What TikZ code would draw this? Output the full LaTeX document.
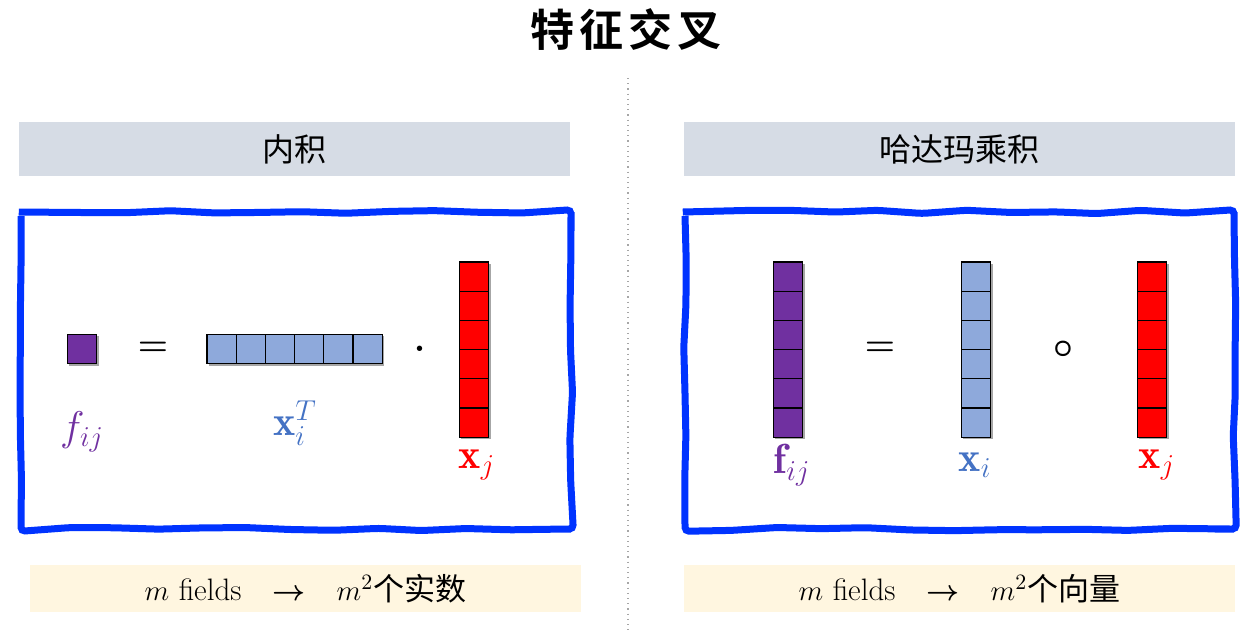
\documentclass[tikz,border=0pt]{standalone}
\usepackage{fontspec}
\usepackage{amsmath,amssymb,bm}
\newfontfamily\cjk{Noto Sans CJK SC}
\newfontfamily\cjktitle{Noto Sans CJK SC}[UprightFont=* Bold, LetterSpace=12]
\usetikzlibrary{positioning,shadows,decorations.pathmorphing}

\definecolor{headgray}{RGB}{214,220,229}
\definecolor{notecream}{RGB}{255,246,224}
\definecolor{frameblue}{RGB}{0,51,255}
\definecolor{cellpurple}{RGB}{112,48,160}
\definecolor{cellblue}{RGB}{142,169,219}
\definecolor{labelblue}{RGB}{68,114,196}

\tikzset{
  cell/.style={draw=black, line width=0.6pt, minimum size=14.6pt, inner sep=0pt, outer sep=0pt,
    drop shadow={shadow xshift=1pt, shadow yshift=-1pt, opacity=0.35, fill=black}},
  headbar/.style={fill=headgray, minimum width=275.5pt, minimum height=27pt, inner sep=0pt,
    font=\cjk\fontsize{16}{19}\selectfont},
  notebar/.style={fill=notecream, minimum width=275.5pt, minimum height=23.5pt, inner sep=0pt,
    font=\fontsize{15.5}{18}\selectfont},
  handframe/.style={draw=frameblue, line width=3.5pt, rounded corners=2pt,
    decorate, decoration={random steps, segment length=22pt, amplitude=0.9pt}},
  oper/.style={font=\fontsize{18}{21}\selectfont},
  vlabel/.style={font=\fontsize{21}{25}\selectfont}
}

\begin{document}
\begin{tikzpicture}[x=0.5pt,y=-0.5pt]
\pgfmathsetseed{11}
\useasboundingbox (0,0) rectangle (1251,634);

% title and separator
\node[font=\cjktitle\fontsize{22}{26}\selectfont] (title) at (626,30) {特征交叉};
\coordinate (sepTop) at (628,78);
\coordinate (sepBot) at (628,634);
\draw[gray!70, dotted, line width=0.6pt] (sepTop) -- (sepBot);

% headers
\node[headbar] (hl) at (294.5,149) {内积};
\node[headbar] (hr) at (959.5,149) {哈达玛乘积};

% hand drawn frames
\draw[handframe] (21,212) rectangle (571,529);
\draw[handframe] (685,212) rectangle (1234,529);

% left: inner product
\node[cell, fill=cellpurple] (f) at (82,349) {};
\node[oper] (eqL) at (153,349) {$\boldsymbol{=}$};
\foreach \i in {1,...,6} {
    \node[cell, fill=cellblue] (r\i) at ({221.6+(\i-1)*29.2},349) {};
}
\node[oper] (dotL) at (420,349) {$\boldsymbol{\cdot}$};
\foreach \i in {1,...,6} {
    \node[cell, fill=red] (c\i) at (474,{276.6+(\i-1)*29.2}) {};
}

\node[vlabel, text=cellpurple] (lf) at (82,432) {$f_{ij}$};
\node[vlabel, text=labelblue] (lx) at (295,423) {$\mathbf{x}_i^{T}$};
\node[vlabel, text=red] (lxj) at (477,465) {$\mathbf{x}_j$};

% right: hadamard product
\foreach \i in {1,...,6} {
    \node[cell, fill=cellpurple] (p\i) at (788,{276.6+(\i-1)*29.2}) {};
    \node[cell, fill=cellblue] (b\i) at (976,{276.6+(\i-1)*29.2}) {};
    \node[cell, fill=red] (q\i) at (1152,{276.6+(\i-1)*29.2}) {};
}
\node[oper] (eqR) at (880,349) {$\boldsymbol{=}$};
\node[oper] (circR) at (1063,349) {$\boldsymbol{\circ}$};

\node[vlabel, text=cellpurple] (rf) at (792,465) {$\mathbf{f}_{ij}$};
\node[vlabel, text=labelblue] (rx) at (975,465) {$\mathbf{x}_i$};
\node[vlabel, text=red] (rxj) at (1157,465) {$\mathbf{x}_j$};

% notes
\node[notebar] (nl) at (305.5,588.5) {$m$ fields\quad$\boldsymbol{\rightarrow}$\quad$m^2${\cjk 个实数}};
\node[notebar] (nr) at (959.5,588.5) {$m$ fields\quad$\boldsymbol{\rightarrow}$\quad$m^2${\cjk 个向量}};

\end{tikzpicture}
\end{document}
